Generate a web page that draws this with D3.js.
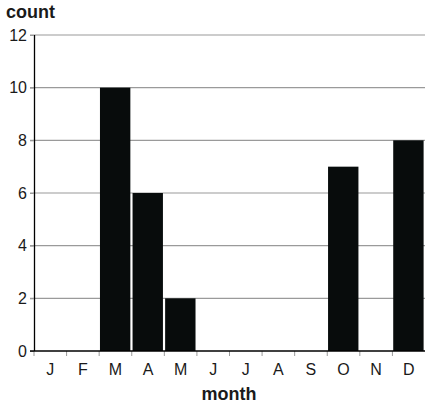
<!DOCTYPE html>
<html><head><meta charset="utf-8">
<script src="https://cdn.jsdelivr.net/npm/d3@7"></script>
<style>body{margin:0;background:#fff}svg{display:block}</style>
</head><body>
<script>
const months = ["J","F","M","A","M","J","J","A","S","O","N","D"];
const counts = [0,0,10,6,2,0,0,0,0,7,0,8];
const yTicks = [0,2,4,6,8,10,12];

const W = 425, H = 406;
const m = {left:34, right:0, top:35, bottom:55};
const svg = d3.select("body").append("svg").attr("width",W).attr("height",H);
const x = d3.scaleBand().domain(d3.range(months.length)).range([m.left, W - m.right]);
const y = d3.scaleLinear().domain([0,12]).range([H - m.bottom, m.top]);
const font = "Liberation Sans, Arial, sans-serif";

// gridlines
svg.append("g").selectAll("line").data(yTicks.filter(d=>d>0)).join("line")
  .attr("x1", m.left - 4).attr("x2", W - m.right)
  .attr("y1", d=>y(d)).attr("y2", d=>y(d))
  .attr("stroke","#9a9a9a").attr("stroke-width",1.2);

// bars
svg.append("g").selectAll("rect").data(counts).join("rect")
  .attr("x", (d,i)=>x(i) + 0.8)
  .attr("width", x.bandwidth() - 2.2)
  .attr("y", d=>y(d)).attr("height", d=>y(0)-y(d))
  .attr("fill","#080c0c");

// y axis
const ya = svg.append("g").attr("transform",`translate(${m.left},0)`)
  .call(d3.axisLeft(y).tickValues(yTicks).tickSize(4).tickPadding(3));
ya.attr("font-size",null).attr("font-family",null);
ya.select(".domain").attr("stroke","#000").attr("stroke-width",1.3).attr("d",`M0.5,${y(12)}V${y(0)}`);
ya.selectAll(".tick line").attr("stroke","#9a9a9a");
ya.selectAll("text").style("font-family",font).style("font-size","16px").attr("fill","#1a1a1a");

// x axis
const xb = d3.scaleLinear().domain([0,12]).range([m.left, W - m.right]);
const xa = svg.append("g").attr("transform",`translate(0,${y(0)})`);
xa.selectAll("line.t").data(d3.range(12)).join("line").attr("class","t")
  .attr("x1", d=>xb(d)).attr("x2", d=>xb(d)).attr("y1",0).attr("y2",5)
  .attr("stroke","#9a9a9a");
xa.append("line").attr("x1", m.left - 4).attr("x2", W).attr("y1",0).attr("y2",0)
  .attr("stroke","#000").attr("stroke-width",1.3);
xa.selectAll("text").data(months).join("text")
  .attr("x",(d,i)=>x(i)+x.bandwidth()/2).attr("y",24)
  .attr("text-anchor","middle").style("font-family",font).style("font-size","16px").attr("fill","#1a1a1a")
  .text(d=>d);

// titles
svg.append("text").attr("x",6).attr("y",18).style("font-family",font).style("font-size","18px")
  .attr("font-weight","bold").attr("fill","#1a1a1a").text("count");
svg.append("text").attr("x",229).attr("y",400).attr("text-anchor","middle").style("font-family",font).style("font-size","18px")
  .attr("font-weight","bold").attr("fill","#1a1a1a").text("month");
</script>
</body></html>
